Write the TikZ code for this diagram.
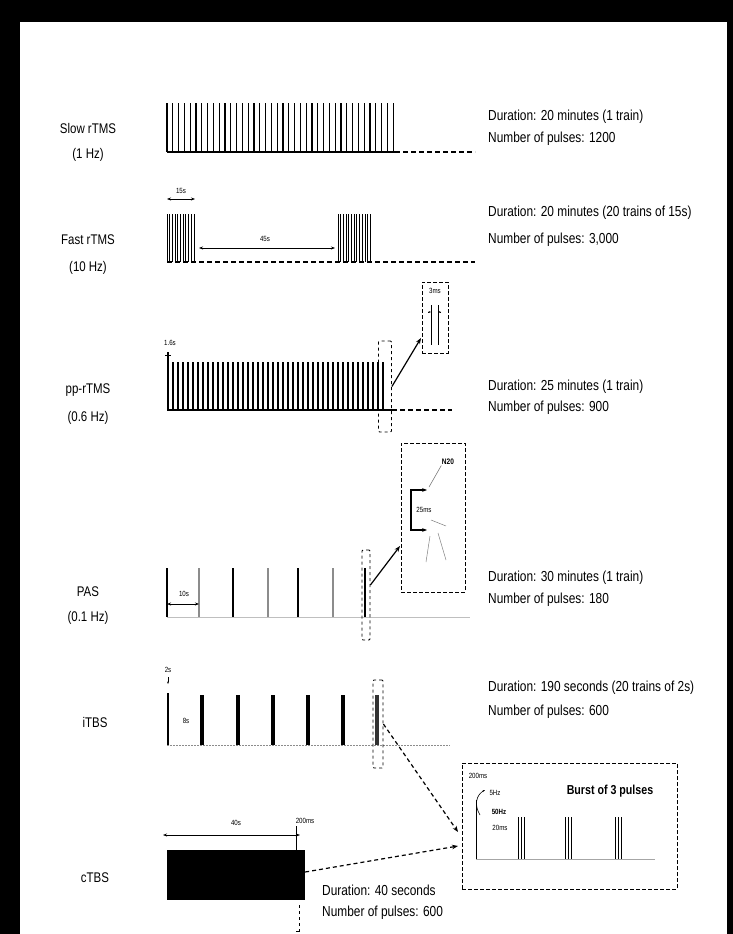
\documentclass[tikz,border=0pt]{standalone}
\usepackage{fontspec}
\setmainfont{Liberation Sans}
\newfontfamily\narrowfont[FakeStretch=0.82]{Liberation Sans}
\usetikzlibrary{arrows.meta}
\begin{document}
\begin{tikzpicture}[x=1pt,y=-1pt,
  lab/.style={font=\narrowfont\fontsize{14}{15}\selectfont, inner sep=0},
  info/.style={font=\narrowfont\fontsize{14.5}{16}\selectfont, anchor=west, inner sep=0},
  tiny/.style={font=\narrowfont\fontsize{7.5}{8}\selectfont, inner sep=0.5pt},
  pulse/.style={line width=1.3pt},
  base/.style={line width=1.3pt},
  dbase/.style={line width=1.3pt, dash pattern=on 5pt off 3pt},
  brk/.style={draw, line width=0.8pt, dashed, inner sep=0, rounded corners=1pt},
  dimar/.style={line width=0.9pt, {Stealth[length=4pt]}-{Stealth[length=4pt]}},
  zoomarrow/.style={line width=1.2pt, -{Stealth[length=6pt]}},
  dzoomarrow/.style={line width=1.2pt, dash pattern=on 4pt off 3pt, -{Stealth[length=6pt]}},
  inset/.style={draw, line width=0.8pt, dash pattern=on 4pt off 2pt, inner sep=0},
]
\fill[black] (0,0) rectangle (733,934);
\fill[white] (20,22) rectangle (727,934);
\useasboundingbox (0,0) rectangle (733,934);

% ---------- Row 1: Slow rTMS ----------
\node[lab] (l1a) at (88,128) {Slow rTMS};
\node[lab] (l1b) at (88,155) {(1 Hz)};
\foreach \i in {0,...,39} \draw[pulse] ({167+\i*5.8},103) -- ++(0,49);
\draw[base] (167,152) -- (395,152);
\draw[dbase] (395,152) -- (475,152);
\node[info] (i1a) at (488,117) {Duration: 20 minutes (1 train)};
\node[info] (i1b) at (488,139) {Number of pulses: 1200};

% ---------- Row 2: Fast rTMS ----------
\node[lab] (l2a) at (88,240) {Fast rTMS};
\node[lab] (l2b) at (88,268) {(10 Hz)};
\foreach \i in {0,...,10} \draw[line width=1pt] ({167+\i*2.7},214) -- ++(0,48);
\foreach \i in {0,...,12} \draw[line width=1pt] ({338+\i*2.7},214) -- ++(0,48);
\coordinate (f1a) at (167,199); \coordinate (f1b) at (195,199);
\draw[dimar] (f1a) -- (f1b);
\node[tiny] (t2a) at (181,191) {15s};
\coordinate (f2a) at (199,248); \coordinate (f2b) at (335,248);
\draw[dimar] (f2a) -- (f2b);
\node[tiny] (t2b) at (265,239) {45s};
\draw[dbase] (167,262) -- (475,262);
\node[info] (i2a) at (488,213) {Duration: 20 minutes (20 trains of 15s)};
\node[info] (i2b) at (488,240) {Number of pulses: 3,000};

% ---------- Row 3: pp-rTMS ----------
\node[lab] (l3a) at (88,390) {pp-rTMS};
\node[lab] (l3b) at (88,418) {(0.6 Hz)};
\draw[pulse] (168,352) -- (168,410);
\draw[line width=1pt] (165,355) -- (171,355);
\node[tiny] (t3a) at (170,343) {1.6s};
\foreach \i in {1,...,43} \draw[pulse] ({168+\i*5},362) -- ++(0,48);
\draw[base] (167,410) -- (392,410);
\draw[dbase] (392,410) -- (452,410);
\node[brk, minimum width=13pt, minimum height=91pt] (b3) at (385,386.5) {};
\node[inset, minimum width=26pt, minimum height=71pt] (z3) at (435,317.5) {};
\coordinate (z3in) at (421,338);
\draw[zoomarrow] (b3.east) -- (z3in);
\node[tiny] (t3b) at (435,291) {3ms};
\draw[line width=1pt] (431,305) -- (431,345);
\draw[line width=1pt] (438,305) -- (438,345);
\draw[line width=0.7pt, -{Stealth[length=2.5pt]}] (428,312) -- (431,312);
\draw[line width=0.7pt, -{Stealth[length=2.5pt]}] (441,312) -- (438,312);
\node[info] (i3a) at (488,387) {Duration: 25 minutes (1 train)};
\node[info] (i3b) at (488,408) {Number of pulses: 900};

% ---------- Row 4: PAS ----------
\node[lab] (l4a) at (88,592) {PAS};
\node[lab] (l4b) at (88,618) {(0.1 Hz)};
\draw[line width=1pt, black!25] (167,617) -- (470,617);
\foreach \x in {167,233,298,365} \draw[line width=1.5pt] (\x,568) -- (\x,617);
\foreach \x in {199,268,333} \draw[line width=1.5pt, black!45] (\x,568) -- (\x,617);
\coordinate (p1a) at (167,604); \coordinate (p1b) at (199,604);
\draw[dimar] (p1a) -- (p1b);
\node[tiny] (t4a) at (184,594) {10s};
\node[brk, minimum width=8pt, minimum height=90pt] (b4) at (366,595) {};
\node[inset, minimum width=64pt, minimum height=149pt] (z4) at (433,517.5) {};
\coordinate (z4in) at (400,546);
\draw[zoomarrow] (b4.east |- 0,585) -- (z4in);
\node[tiny, font=\narrowfont\bfseries\fontsize{8}{9}\selectfont] (t4b) at (448,462) {N20};
\draw[line width=1.8pt, {Stealth[length=5pt]}-{Stealth[length=5pt]}] (427,490) -- (411,490) -- (411,530) -- (427,530);
\node[tiny] (t4c) at (424,510) {25ms};
\draw[line width=0.5pt, black!60] (t4b.south west) -- (429,487);
\draw[line width=0.5pt, black!50] (431,520) -- (446,526);
\draw[line width=0.5pt, black!50] (430,536) -- (426,562);
\draw[line width=0.5pt, black!50] (438,533) -- (446,560);
\node[info] (i4a) at (488,578) {Duration: 30 minutes (1 train)};
\node[info] (i4b) at (488,600) {Number of pulses: 180};

% ---------- Row 5: iTBS ----------
\node[lab] (l5a) at (95,722) {iTBS};
\draw[line width=1pt, black!45, dash pattern=on 1.5pt off 1.5pt] (167,745) -- (450,745);
\draw[line width=2.5pt] (168,693) -- (168,745);
\foreach \x in {202,238,273,308,343} \draw[line width=4.5pt] (\x,695) -- (\x,745);
\draw[line width=4.5pt, black!80] (377,695) -- (377,745);
\node[tiny] (t5a) at (168,670) {2s};
\draw[line width=0.7pt, -{Stealth[length=2.5pt]}] (168,677) -- (168,684);
\node[tiny] (t5b) at (186,721) {8s};
\node[brk, minimum width=10pt, minimum height=88pt] (b5) at (378,724) {};
\coordinate (z6in1) at (458,832);
\draw[dzoomarrow] (b5.east) -- (z6in1);
\node[info] (i5a) at (488,688) {Duration: 190 seconds (20 trains of 2s)};
\node[info] (i5b) at (488,712) {Number of pulses: 600};

% ---------- Row 6: cTBS ----------
\node[lab] (l6a) at (95,878) {cTBS};
\node[fill=black, minimum width=138pt, minimum height=50pt, inner sep=0] (c6) at (236,875) {};
\coordinate (c6a) at (163,835); \coordinate (c6b) at (300,835);
\draw[dimar] (c6a) -- (c6b);
\node[tiny] (t6a) at (236,823) {40s};
\draw[line width=0.8pt] (296,826) -- (296,850);
\node[tiny] (t6b) at (305,821) {200ms};
\draw[line width=0.8pt, dashed] (299,905) -- (299,931);
\draw[line width=0.8pt] (296,931) -- (300,931);
\coordinate (z6in2) at (458,846);
\draw[dzoomarrow] (c6.east |- 0,872) -- (z6in2);
\node[info] (i6a) at (322,890) {Duration: 40 seconds};
\node[info] (i6b) at (322,913) {Number of pulses: 600};

% ---------- TBS inset ----------
\node[inset, minimum width=215pt, minimum height=126pt] (z6) at (569.5,826) {};
\node[tiny] (t7a) at (478,776) {200ms};
\draw[line width=0.6pt, -{Stealth[length=2.5pt]}] (480,815) .. controls (474,805) and (476,795) .. (485,790);
\node[tiny] (t7b) at (495,793) {5Hz};
\node[tiny, font=\narrowfont\bfseries\fontsize{7.5}{8}\selectfont] (t7c) at (499,812) {50Hz};
\node[tiny] (t7d) at (500,828) {20ms};
\draw[line width=0.6pt] (476,800) -- (476,860);
\draw[line width=0.8pt, black!35] (476,859) -- (655,859);
\foreach \x in {518,521,524, 565,568,571, 615,618,621} \draw[line width=0.9pt] (\x,817) -- (\x,859);
\node[font=\narrowfont\bfseries\fontsize{13}{14}\selectfont, inner sep=0] (t7e) at (610,791) {Burst of 3 pulses};
\end{tikzpicture}
\end{document}
